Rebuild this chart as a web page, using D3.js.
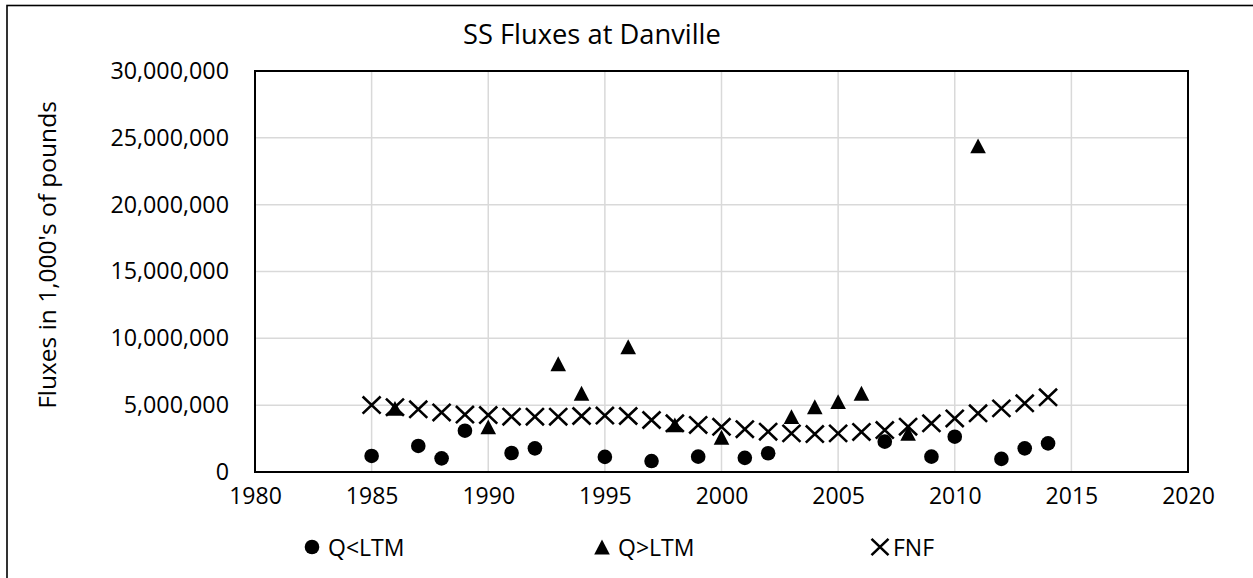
<!DOCTYPE html>
<html>
<head>
<meta charset="utf-8">
<script src="https://cdn.jsdelivr.net/npm/d3@7"></script>
<style>
  html, body { margin: 0; padding: 0; background: #fff; }
  svg { display: block; }
  text { font-family: "Open Sans", "Noto Sans", sans-serif; fill: #000; }
</style>
</head>
<body>
<svg id="chart" width="1253" height="578"></svg>
<script>
// ---- data ----
const title = "SS Fluxes at Danville";
const yTitle = "Fluxes in 1,000's of pounds";
const xTicks = [1980, 1985, 1990, 1995, 2000, 2005, 2010, 2015, 2020];
const yTicks = [0, 5000000, 10000000, 15000000, 20000000, 25000000, 30000000];

const lowYears  = [1985, 1987, 1988, 1989, 1991, 1992, 1995, 1997, 1999, 2001, 2002, 2007, 2009, 2010, 2012, 2013, 2014];
const lowValues = [1200000, 1950000, 1020000, 3090000, 1420000, 1770000, 1130000, 820000, 1150000, 1060000, 1400000, 2270000, 1150000, 2640000, 980000, 1770000, 2140000];

const highYears  = [1986, 1990, 1993, 1994, 1996, 1998, 2000, 2003, 2004, 2005, 2006, 2008, 2011];
const highValues = [4760000, 3380000, 8100000, 5890000, 9370000, 3520000, 2600000, 4140000, 4880000, 5260000, 5890000, 2890000, 24400000];

const fnfYears  = [1985, 1986, 1987, 1988, 1989, 1990, 1991, 1992, 1993, 1994, 1995, 1996, 1997, 1998, 1999,
                   2000, 2001, 2002, 2003, 2004, 2005, 2006, 2007, 2008, 2009, 2010, 2011, 2012, 2013, 2014];
const fnfValues = [5010000, 4850000, 4690000, 4460000, 4300000, 4260000, 4140000, 4140000, 4140000, 4190000, 4220000, 4190000, 3890000, 3640000, 3520000,
                   3380000, 3200000, 3020000, 2890000, 2840000, 2890000, 3000000, 3140000, 3390000, 3640000, 4010000, 4390000, 4760000, 5140000, 5590000];

const legendNames = ["Q<LTM", "Q>LTM", "FNF"];

// ---- layout ----
const svg = d3.select("#chart");
const plot = { left: 255, top: 71, right: 1188, bottom: 472 };

const x = d3.scaleLinear().domain([1980, 2020]).range([plot.left, plot.right]);
const y = d3.scaleLinear().domain([0, 30000000]).range([plot.bottom, plot.top]);

// outer chart border (extends past the picture on right/bottom)
svg.append("rect").attr("x", 7).attr("y", 5.5).attr("width", 1400).attr("height", 700)
  .attr("fill", "none").attr("stroke", "#000").attr("stroke-width", 1.6);

// gridlines
svg.append("g").selectAll("line").data(xTicks).join("line")
  .attr("x1", d => x(d)).attr("x2", d => x(d)).attr("y1", plot.top).attr("y2", plot.bottom)
  .attr("stroke", "#d9d9d9").attr("stroke-width", 1.5);
svg.append("g").selectAll("line").data(yTicks).join("line")
  .attr("x1", plot.left).attr("x2", plot.right).attr("y1", d => y(d)).attr("y2", d => y(d))
  .attr("stroke", "#d9d9d9").attr("stroke-width", 1.5);

// axes (labels only)
const fmt = d3.format(",");
const yAxis = svg.append("g").attr("transform", `translate(${plot.left},0)`)
  .call(d3.axisLeft(y).tickValues(yTicks).tickFormat(fmt).tickSize(0).tickPadding(26));
yAxis.select(".domain").remove();
yAxis.selectAll("text").attr("font-size", 23.3).style("font-family", "'Open Sans', sans-serif").attr("fill", "#000");

const xAxis = svg.append("g").attr("transform", `translate(0,${plot.bottom})`)
  .call(d3.axisBottom(x).tickValues(xTicks).tickFormat(d3.format("d")).tickSize(0).tickPadding(16));
xAxis.select(".domain").remove();
xAxis.selectAll("text").attr("font-size", 23).style("font-family", "'Open Sans', sans-serif").attr("fill", "#000");

// plot border
svg.append("rect").attr("x", plot.left).attr("y", plot.top)
  .attr("width", plot.right - plot.left).attr("height", plot.bottom - plot.top)
  .attr("fill", "none").attr("stroke", "#000").attr("stroke-width", 2);

// markers
const circleSym = d3.symbol().type(d3.symbolCircle).size(Math.PI * 7.3 * 7.3);
const triPath = s => `M0,${-s * 0.95}L${s},${s * 0.95}L${-s},${s * 0.95}Z`;
const xPath = s => `M${-s},${-s * 0.95}L${s},${s * 0.95}M${-s},${s * 0.95}L${s},${-s * 0.95}`;

const fnf = fnfYears.map((yr, i) => ({ yr, v: fnfValues[i] }));
const low = lowYears.map((yr, i) => ({ yr, v: lowValues[i] }));
const high = highYears.map((yr, i) => ({ yr, v: highValues[i] }));

svg.append("g").selectAll("path").data(low).join("path")
  .attr("transform", d => `translate(${x(d.yr)},${y(d.v)})`)
  .attr("d", circleSym()).attr("fill", "#000");

svg.append("g").selectAll("path").data(high).join("path")
  .attr("transform", d => `translate(${x(d.yr)},${y(d.v)})`)
  .attr("d", triPath(7.8)).attr("fill", "#000");

svg.append("g").selectAll("path").data(fnf).join("path")
  .attr("transform", d => `translate(${x(d.yr)},${y(d.v)})`)
  .attr("d", xPath(9)).attr("fill", "none").attr("stroke", "#000").attr("stroke-width", 2.6);

// title
svg.append("text").attr("x", 463).attr("y", 44).attr("font-size", 27.3).text(title);

// y axis title
svg.append("text").attr("transform", "translate(56,255) rotate(-90)")
  .attr("text-anchor", "middle").attr("font-size", 24.5).text(yTitle);

// legend
const lg = svg.append("g");
const legendX = [312, 602, 880];
const legendY = 547;
lg.append("path").attr("transform", `translate(${legendX[0]},${legendY})`).attr("d", circleSym()).attr("fill", "#000");
lg.append("path").attr("transform", `translate(${legendX[1]},${legendY})`).attr("d", triPath(7.8)).attr("fill", "#000");
lg.append("path").attr("transform", `translate(${legendX[2]},${legendY})`).attr("d", xPath(8.5))
  .attr("fill", "none").attr("stroke", "#000").attr("stroke-width", 2.6);
lg.selectAll("text").data(legendNames).join("text")
  .attr("x", (d, i) => legendX[i] + (i === 2 ? 13 : 16)).attr("y", legendY + 8.5)
  .attr("font-size", 23).text(d => d);
</script>
</body>
</html>
